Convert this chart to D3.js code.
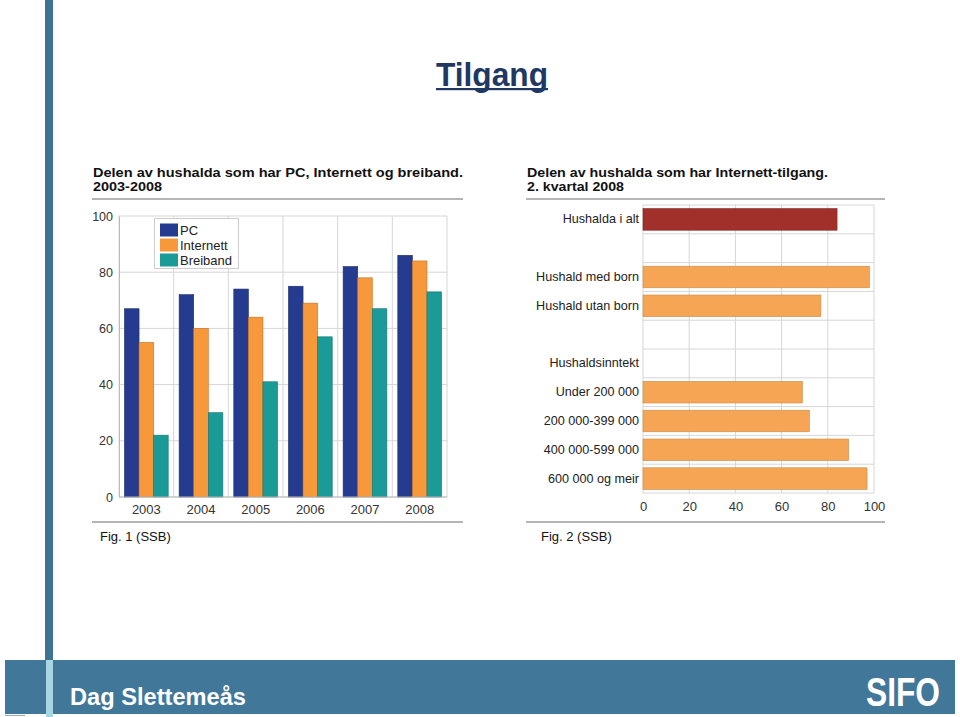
<!DOCTYPE html>
<html><head><meta charset="utf-8">
<script src="https://cdn.jsdelivr.net/npm/d3@7"></script>
<style>body{margin:0;background:#fff}svg{display:block}text{font-family:"Liberation Sans",Arial,Helvetica,sans-serif}</style>
</head><body><svg id="c" width="960" height="717"></svg>
<script>
// ---- data ----
const years = ["2003","2004","2005","2006","2007","2008"];
const seriesNames = ["PC","Internett","Breiband"];
const pcValues = [67,72,74,75,82,86];
const internettValues = [55,60,64,69,78,84];
const breibandValues = [22,30,41,57,67,73];
const yTicks1 = [0,20,40,60,80,100];

const hhCategories = ["Hushalda i alt","","Hushald med born","Hushald utan born"," ","Hushaldsinntekt","Under 200 000","200 000-399 000","400 000-599 000","600 000 og meir"];
const hhValues = [84,null,98,77,null,null,69,72,89,97];
const xTicks2 = [0,20,40,60,80,100];

const svg = d3.select("#c");
const seriesColors = ["#253b90","#f7993b","#1b9b98"];
const seriesStroke = ["#1a2a6a","#c0702a","#137370"];

// ---- page decoration ----
svg.append("rect").attr("x",45).attr("y",0).attr("width",8).attr("height",660).attr("fill","#3d7494");
svg.append("rect").attr("x",5).attr("y",660).attr("width",950).attr("height",54).attr("fill","#41789a");
svg.append("rect").attr("x",46).attr("y",660).attr("width",7).attr("height",57).attr("fill","#a9d6e3");
svg.append("line").attr("x1",5).attr("x2",25).attr("y1",715.5).attr("y2",715.5).attr("stroke","#9ab").attr("stroke-width",1);

function fitText(sel, w){ sel.attr("textLength",w).attr("lengthAdjust","spacingAndGlyphs"); return sel; }

// Title
fitText(svg.append("text").attr("x",436).attr("y",86).attr("font-family","'Liberation Sans Narrow','Arial Narrow','Liberation Sans',Arial,sans-serif")
  .attr("font-size",34).attr("font-weight","bold").attr("fill","#1f3864").text("Tilgang"),112);
svg.append("rect").attr("x",436).attr("y",88).attr("width",112).attr("height",2.2).attr("fill","#1f3864");

// Footer
fitText(svg.append("text").attr("x",70).attr("y",705).attr("font-size",24).attr("font-weight","bold").attr("fill","#fff").text("Dag Slettemeås"),176);
fitText(svg.append("text").attr("x",866).attr("y",706).attr("font-family","'Liberation Sans Narrow','Arial Narrow','Liberation Sans',sans-serif")
  .attr("font-size",40).attr("font-weight","bold").attr("fill","#fff").text("SIFO"),74);

// ---- Chart 1 ----
const g1 = svg.append("g");
fitText(g1.append("text").attr("x",93).attr("y",177).attr("font-size",13).attr("font-weight","bold").attr("fill","#111")
  .text("Delen av hushalda som har PC, Internett og breiband."),370);
fitText(g1.append("text").attr("x",93).attr("y",191).attr("font-size",13).attr("font-weight","bold").attr("fill","#111").text("2003-2008"),69);
g1.append("line").attr("x1",92).attr("x2",463).attr("y1",199).attr("y2",199).attr("stroke","#b5b5b5").attr("stroke-width",2);
g1.append("line").attr("x1",92).attr("x2",463).attr("y1",522).attr("y2",522).attr("stroke","#b5b5b5").attr("stroke-width",2);

const px0 = 119, px1 = 447, py0 = 497, py1 = 216;
const x0 = d3.scaleBand().domain(years).range([px0,px1]).paddingInner(0.2).paddingOuter(0.1);
const x1 = d3.scaleBand().domain(seriesNames).range([0,x0.bandwidth()]);
const y1 = d3.scaleLinear().domain([0,100]).range([py0,py1]);

// grid
g1.selectAll(".hg").data(yTicks1).join("line").attr("x1",px0).attr("x2",px1)
  .attr("y1",d=>y1(d)).attr("y2",d=>y1(d)).attr("stroke","#d6d6d6");
const seps = [px0].concat(years.map(d=>x0(d)+x0.bandwidth()+x0.step()*0.1));
g1.selectAll(".vg").data(seps).join("line").attr("x1",d=>d).attr("x2",d=>d)
  .attr("y1",py1).attr("y2",py0).attr("stroke","#d6d6d6");

const seriesData = [pcValues, internettValues, breibandValues];
years.forEach((yr,i)=>{
  seriesNames.forEach((s,j)=>{
    const v = seriesData[j][i];
    g1.append("rect").attr("x",x0(yr)+x1(s)).attr("y",y1(v)).attr("width",x1.bandwidth()).attr("height",y1(0)-y1(v))
      .attr("fill",seriesColors[j]).attr("stroke",seriesStroke[j]).attr("stroke-width",0.6);
  });
});
g1.append("line").attr("x1",px0).attr("x2",px1).attr("y1",py0).attr("y2",py0).attr("stroke","#bbb");

const yAxis1 = g1.append("g").attr("transform",`translate(${px0},0)`).call(d3.axisLeft(y1).tickValues(yTicks1).tickSize(0).tickPadding(6));
yAxis1.select(".domain").attr("stroke","#bbb");
yAxis1.selectAll("text").attr("font-size",12.5).attr("fill","#333").attr("font-family","'Liberation Sans',Arial,sans-serif");
const xAxis1 = g1.append("g").attr("transform",`translate(0,${py0})`).call(d3.axisBottom(x0).tickSize(0).tickPadding(8));
xAxis1.select(".domain").remove();
xAxis1.selectAll("text").attr("font-size",13).attr("fill","#333").attr("font-family","'Liberation Sans',Arial,sans-serif");

// legend
const lg = g1.append("g");
lg.append("rect").attr("x",154.5).attr("y",218.5).attr("width",84).attr("height",50).attr("fill","#fff").attr("stroke","#ccc");
seriesNames.forEach((s,j)=>{
  const cy = 230 + j*15;
  lg.append("rect").attr("x",160).attr("y",cy-6.5).attr("width",18).attr("height",13).attr("fill",seriesColors[j]);
  lg.append("text").attr("x",180).attr("y",cy+4.5).attr("font-size",13).attr("fill","#222").text(s);
});
g1.append("text").attr("x",100).attr("y",541).attr("font-size",13).attr("fill","#111").text("Fig. 1 (SSB)");

// ---- Chart 2 ----
const g2 = svg.append("g");
fitText(g2.append("text").attr("x",527).attr("y",177).attr("font-size",13).attr("font-weight","bold").attr("fill","#111")
  .text("Delen av hushalda som har Internett-tilgang."),301);
fitText(g2.append("text").attr("x",527).attr("y",191).attr("font-size",13).attr("font-weight","bold").attr("fill","#111").text("2. kvartal 2008"),97);
g2.append("line").attr("x1",526).attr("x2",885).attr("y1",199).attr("y2",199).attr("stroke","#b5b5b5").attr("stroke-width",2);
g2.append("line").attr("x1",526).attr("x2",885).attr("y1",522).attr("y2",522).attr("stroke","#b5b5b5").attr("stroke-width",2);

const qx0 = 643, qx1 = 874, qy0 = 205, qy1 = 493;
const xs2 = d3.scaleLinear().domain([0,100]).range([qx0,qx1]);
const ys2 = d3.scaleBand().domain(hhCategories).range([qy0,qy1]).paddingInner(0.25).paddingOuter(0.125);
const rowStep = ys2.step();
const rowLines = d3.range(hhCategories.length+1).map(i=>qy0+i*rowStep);
g2.selectAll(".rl").data(rowLines).join("line").attr("x1",qx0).attr("x2",qx1).attr("y1",d=>d).attr("y2",d=>d).attr("stroke","#d6d6d6");
g2.selectAll(".cl").data(xTicks2).join("line").attr("x1",d=>xs2(d)).attr("x2",d=>xs2(d)).attr("y1",qy0).attr("y2",qy1).attr("stroke","#d6d6d6");

hhCategories.forEach((c,i)=>{
  const v = hhValues[i];
  if(v==null) return;
  g2.append("rect").attr("x",xs2(0)).attr("y",ys2(c)).attr("width",xs2(v)-xs2(0)).attr("height",ys2.bandwidth())
    .attr("fill", i===0 ? "#a2302a" : "#f5a553").attr("stroke", i===0 ? "#7a2420" : "#c98a48").attr("stroke-width",0.6);
});
const yAxis2 = g2.append("g").attr("transform",`translate(${qx0},0)`).call(d3.axisLeft(ys2).tickSize(0).tickPadding(4));
yAxis2.select(".domain").remove();
yAxis2.selectAll("text").attr("font-size",12.6).attr("fill","#222").attr("font-family","'Liberation Sans',Arial,sans-serif");
const xAxis2 = g2.append("g").attr("transform",`translate(0,${qy1})`).call(d3.axisBottom(xs2).tickValues(xTicks2).tickSize(0).tickPadding(9));
xAxis2.select(".domain").remove();
xAxis2.selectAll("text").attr("font-size",13).attr("fill","#333").attr("font-family","'Liberation Sans',Arial,sans-serif");
g2.append("text").attr("x",541).attr("y",541).attr("font-size",13).attr("fill","#111").text("Fig. 2 (SSB)");
</script></body></html>
